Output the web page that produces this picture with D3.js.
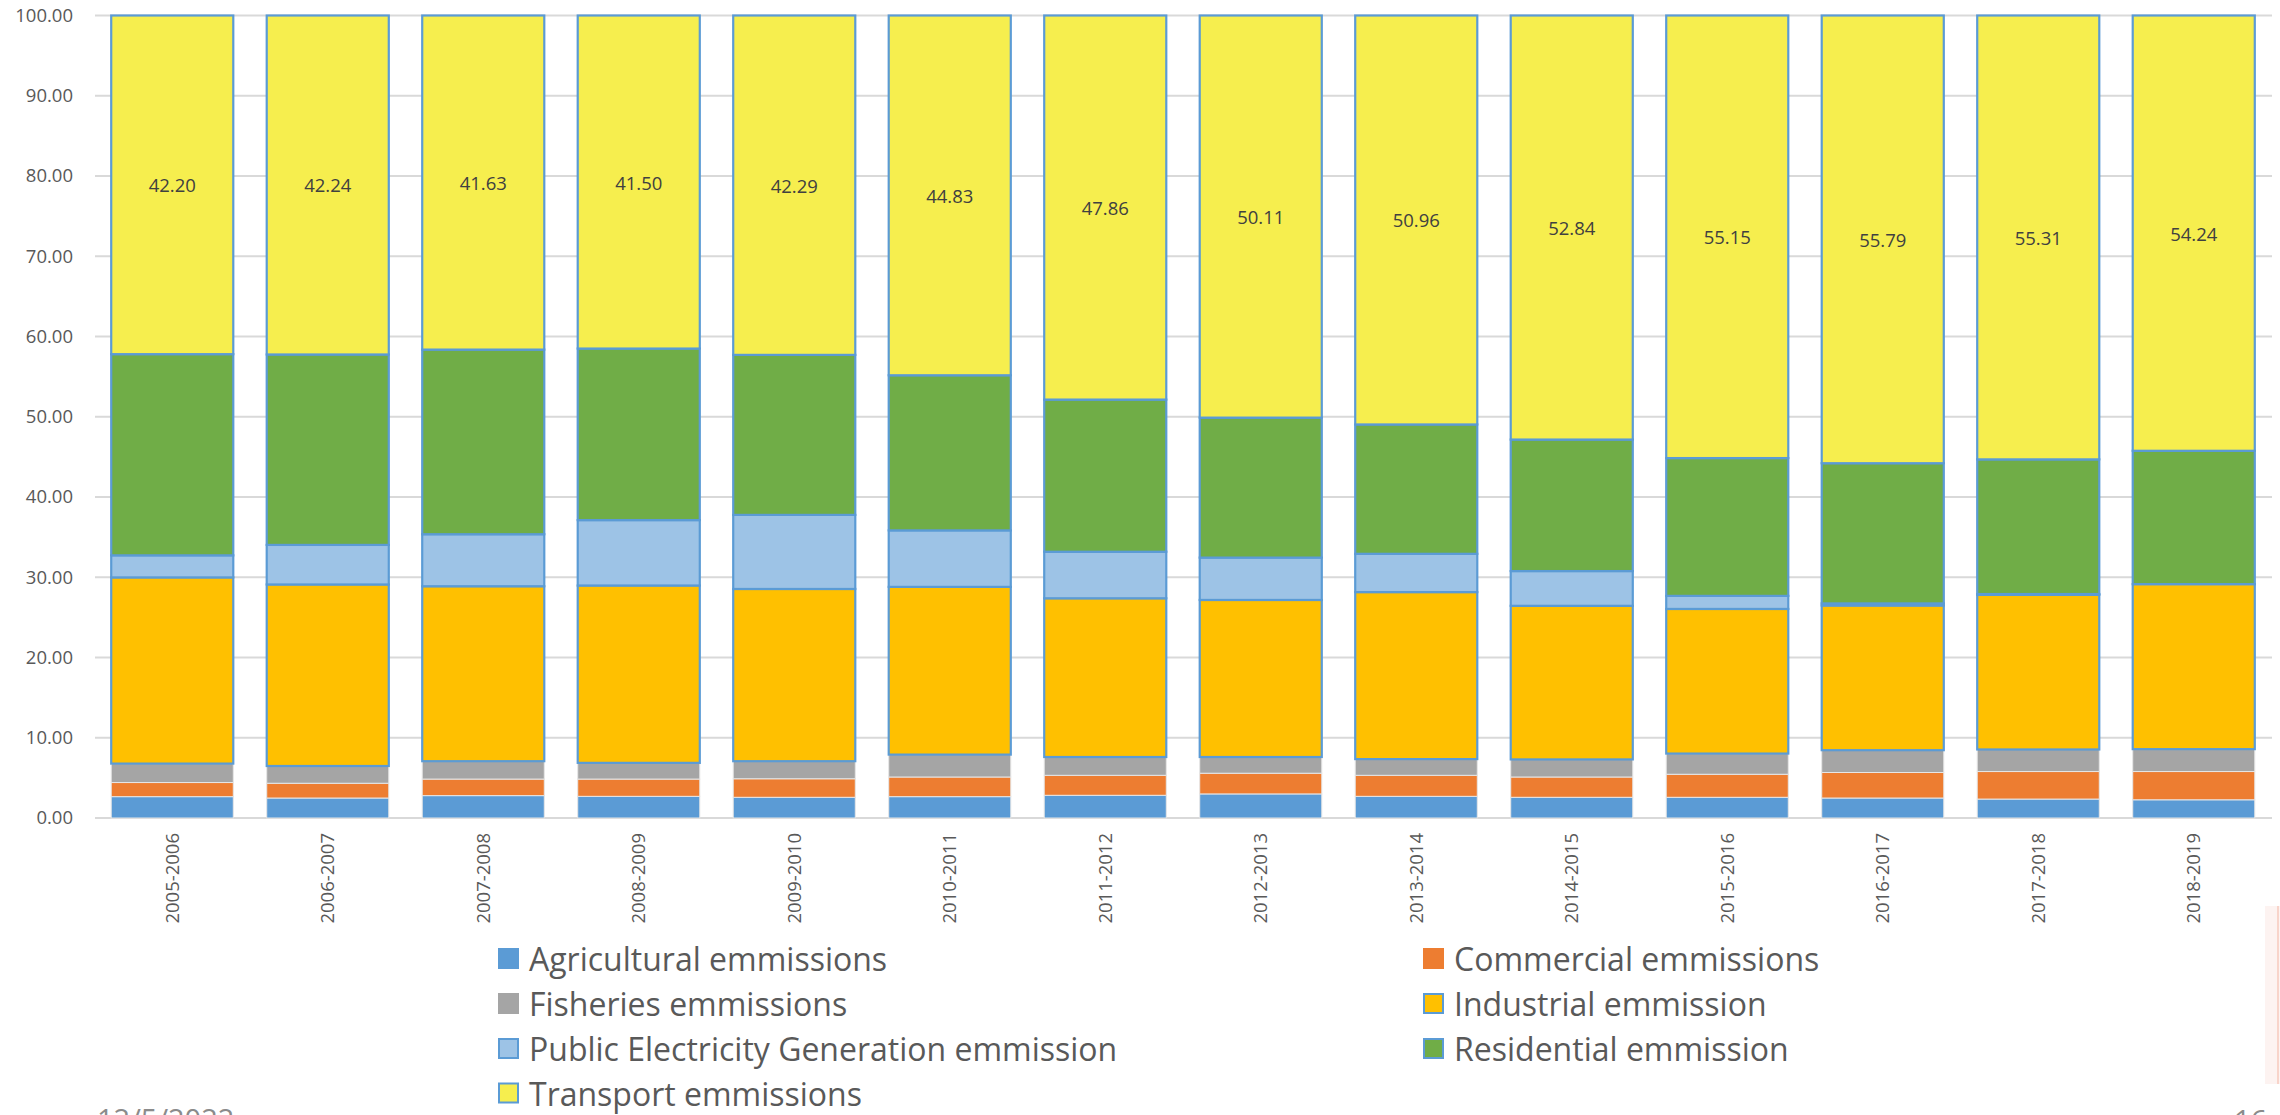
<!DOCTYPE html>
<html>
<head>
<meta charset="utf-8">
<title>Emissions share by sector</title>
<script src="https://cdn.jsdelivr.net/npm/d3@7"></script>
<style>
  html, body { margin: 0; padding: 0; background: #ffffff; }
  svg { display: block; font-family: "Open Sans", "Noto Sans", sans-serif; }
</style>
</head>
<body>
<svg id="chart" width="2280" height="1115"></svg>
<script>
// Financial years on the x axis
const categories = ["2005-2006", "2006-2007", "2007-2008", "2008-2009", "2009-2010",
  "2010-2011", "2011-2012", "2012-2013", "2013-2014", "2014-2015",
  "2015-2016", "2016-2017", "2017-2018", "2018-2019"];

// Share of total emissions per sector (%), stacked bottom to top
const agricultural = [2.66, 2.49, 2.79, 2.70, 2.58, 2.66, 2.83, 3.00, 2.70, 2.58, 2.58, 2.49, 2.36, 2.27];
const commercial   = [1.76, 1.84, 2.06, 2.15, 2.31, 2.45, 2.49, 2.58, 2.62, 2.53, 2.87, 3.18, 3.43, 3.52];
const fisheries    = [2.36, 2.15, 2.23, 2.02, 2.19, 2.79, 2.28, 2.02, 2.02, 2.19, 2.58, 2.78, 2.75, 2.79];
const industrial   = [23.20, 22.62, 21.80, 22.10, 21.46, 20.90, 19.78, 19.57, 20.81, 19.14, 18.02, 18.03, 19.27, 20.56];
const publicElec   = [2.75, 4.93, 6.48, 8.15, 9.23, 7.04, 5.80, 5.28, 4.77, 4.33, 1.63, 0.26, 0.10, 0.00];
const residential  = [25.07, 23.73, 23.01, 21.38, 19.94, 19.33, 18.96, 17.44, 16.12, 16.39, 17.17, 17.47, 16.78, 16.62];
const transport    = [42.20, 42.24, 41.63, 41.50, 42.29, 44.83, 47.86, 50.11, 50.96, 52.84, 55.15, 55.79, 55.31, 54.24];

// Y axis ticks
const yTicks = [0, 10, 20, 30, 40, 50, 60, 70, 80, 90, 100];

// Series definitions: key, legend label, fill, outlined
const seriesInfo = [
  { key: "agricultural", label: "Agricultural emmissions", color: "#5b9bd5", outlined: false },
  { key: "commercial",   label: "Commercial emmissions",   color: "#ed7d31", outlined: false },
  { key: "fisheries",    label: "Fisheries emmissions",    color: "#a5a5a5", outlined: false },
  { key: "industrial",   label: "Industrial emmission",    color: "#ffc000", outlined: true },
  { key: "publicElec",   label: "Public Electricity Generation emmission", color: "#9dc3e6", outlined: true },
  { key: "residential",  label: "Residential emmission",   color: "#70ad47", outlined: true },
  { key: "transport",    label: "Transport emmissions",    color: "#f6ee4e", outlined: true }
];
const seriesValues = { agricultural, commercial, fisheries, industrial, publicElec, residential, transport };

const rows = categories.map((c, i) => {
  const r = { year: c };
  seriesInfo.forEach(s => { r[s.key] = seriesValues[s.key][i]; });
  return r;
});

const svg = d3.select("#chart");
const outline = "#5b9bd5";

const x = d3.scaleBand()
  .domain(categories)
  .range([94.5, 2271.5])
  .paddingInner(0.215)
  .paddingOuter(0.1075);

const y = d3.scaleLinear().domain([0, 100]).range([818, 15.5]);

// Gridlines
svg.append("g").selectAll("line")
  .data(yTicks)
  .join("line")
  .attr("x1", 95).attr("x2", 2272)
  .attr("y1", d => y(d)).attr("y2", d => y(d))
  .attr("stroke", "#d9d9d9").attr("stroke-width", 2);

// Y axis labels
const yAxis = d3.axisLeft(y).tickValues(yTicks).tickFormat(d3.format(".2f")).tickSize(0).tickPadding(0);
const yg = svg.append("g").attr("transform", "translate(73,0)").call(yAxis);
yg.select(".domain").remove();
yg.selectAll("text")
  .attr("fill", "#595959")
  .style("font-size", "18.5px")
  .style("font-family", "'Open Sans', sans-serif");

// Stacked bars
const stack = d3.stack().keys(seriesInfo.map(s => s.key));
const layers = stack(rows);

const layerG = svg.append("g").selectAll("g")
  .data(layers)
  .join("g")
  .attr("fill", (d, i) => seriesInfo[i].color);

layerG.each(function (layer, i) {
  const info = seriesInfo[i];
  d3.select(this).selectAll("rect")
    .data(layer)
    .join("rect")
    .attr("x", d => x(d.data.year))
    .attr("width", x.bandwidth())
    .attr("y", d => y(d[1]))
    .attr("height", d => Math.max(0, y(d[0]) - y(d[1])))
    .attr("stroke", info.outlined ? outline : "#e6e6e6")
    .attr("stroke-width", info.outlined ? 2.2 : 1);
});

// Value labels on the transport segment
const topLayer = layers[layers.length - 1];
svg.append("g").selectAll("text")
  .data(topLayer)
  .join("text")
  .attr("x", d => x(d.data.year) + x.bandwidth() / 2)
  .attr("y", d => y((d[0] + d[1]) / 2))
  .attr("text-anchor", "middle")
  .attr("dominant-baseline", "central")
  .attr("fill", "#404040")
  .style("font-size", "18.5px")
  .text(d => d3.format(".2f")(d.data.transport));

// X axis labels, rotated
const xAxis = d3.axisBottom(x).tickSize(0).tickPadding(0);
const xg = svg.append("g").attr("transform", "translate(0,833)").call(xAxis);
xg.select(".domain").remove();
xg.selectAll("text")
  .attr("transform", "rotate(-90)")
  .attr("text-anchor", "end")
  .attr("x", 0)
  .attr("y", 0)
  .attr("dy", "0.35em")
  .attr("fill", "#595959")
  .style("font-size", "18.5px")
  .style("font-family", "'Open Sans', sans-serif");

// Legend in two columns
const legendOrder = [
  ["agricultural", 0, 0], ["commercial", 1, 0],
  ["fisheries", 0, 1],    ["industrial", 1, 1],
  ["publicElec", 0, 2],   ["residential", 1, 2],
  ["transport", 0, 3]
];
const colX = [498, 1423];
const rowY = [958.5, 1003.5, 1048.5, 1093.0];
const legend = svg.append("g");
legendOrder.forEach(([key, col, row]) => {
  const info = seriesInfo.find(s => s.key === key);
  const g = legend.append("g").attr("transform", `translate(${colX[col]},${rowY[row]})`);
  g.append("rect")
    .attr("x", info.outlined ? 1 : 0).attr("y", info.outlined ? -9.5 : -10.5)
    .attr("width", info.outlined ? 19 : 21).attr("height", info.outlined ? 19 : 21)
    .attr("fill", info.color)
    .attr("stroke", info.outlined ? outline : "none")
    .attr("stroke-width", 2);
  g.append("text")
    .attr("x", 31).attr("y", 0)
    .attr("dominant-baseline", "central")
    .attr("fill", "#595959")
    .style("font-size", "32px")
    .text(info.label);
});

// Slide footer: date and page number
svg.append("text").attr("x", 97).attr("y", 1130)
  .attr("fill", "#8b8b8b").style("font-size", "29px").text("12/5/2022");
svg.append("text").attr("x", 2234).attr("y", 1131)
  .attr("fill", "#8b8b8b").style("font-size", "29px").text("16");

// Faint strip at the right edge of the slide
svg.append("rect").attr("x", 2265).attr("y", 906).attr("width", 15).attr("height", 178)
  .attr("fill", "#fdf3f1");
svg.append("line").attr("x1", 2278).attr("x2", 2278).attr("y1", 906).attr("y2", 1084)
  .attr("stroke", "#f8d4ca").attr("stroke-width", 2);
</script>
</body>
</html>
